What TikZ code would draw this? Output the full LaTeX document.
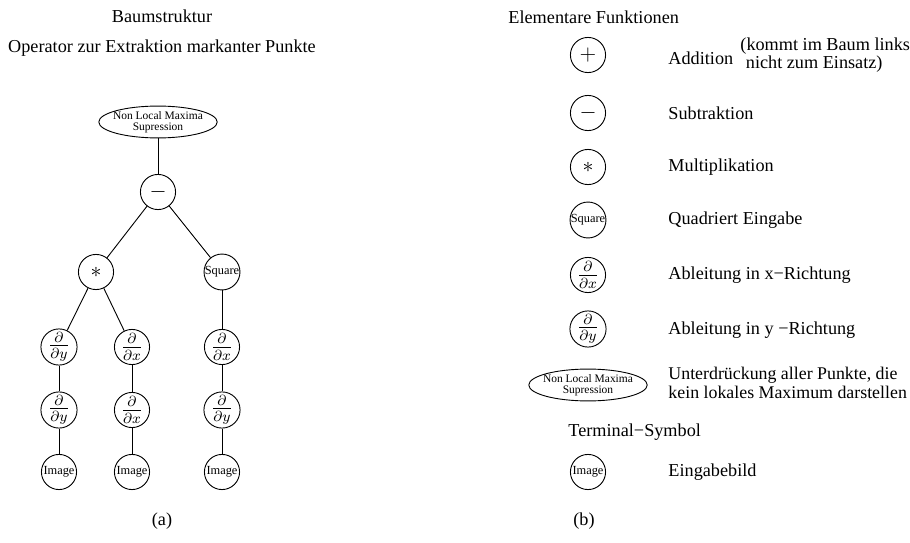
\documentclass[tikz,border=0pt]{standalone}
\usepackage{fontspec}
\setmainfont{Liberation Serif}
\usetikzlibrary{shapes.geometric}

\tikzset{
	fn/.style={draw, circle, minimum size=19.3pt, inner sep=0pt, font=\fontsize{11.5}{13}\selectfont},
	tinyfn/.style={fn, font=\fontsize{6.8}{7}\selectfont},
	nlms/.style={draw, ellipse, minimum width=65pt, minimum height=17.5pt, inner xsep=-8pt, inner ysep=-2pt, align=center, font=\fontsize{6.3}{6.2}\selectfont},
	desc/.style={anchor=west, inner sep=0pt, font=\fontsize{10}{12}\selectfont},
	headline/.style={inner sep=0pt, font=\fontsize{10}{12}\selectfont}
}

\begin{document}
\begin{tikzpicture}[x=0.549pt, y=-0.549pt, line width=0.5pt]
	\useasboundingbox (0,0) rectangle (910,543);

	\node[headline] (baum) at (162,16) {Baumstruktur};
	\node[headline] (operator) at (162,48) {Operator zur Extraktion markanter Punkte};

	\node[nlms] (nlmsL) at (158,122) {Non Local Maxima\\Supression};
	\node[fn] (minusL) at (158,192) {$-$};
	\node[fn] (multL) at (96,272) {$\ast$};
	\node[tinyfn] (sqL) at (222,272) {Square};
	\node[fn] (dyA) at (59,347) {$\frac{\partial}{\partial y}$};
	\node[fn] (dyB) at (59,410) {$\frac{\partial}{\partial y}$};
	\node[tinyfn] (imgA) at (59,472) {Image};
	\node[fn] (dxA) at (132,347) {$\frac{\partial}{\partial x}$};
	\node[fn] (dxB) at (132,410) {$\frac{\partial}{\partial x}$};
	\node[tinyfn] (imgB) at (132,472) {Image};
	\node[fn] (dxC) at (222,347) {$\frac{\partial}{\partial x}$};
	\node[fn] (dyC) at (222,410) {$\frac{\partial}{\partial y}$};
	\node[tinyfn] (imgC) at (222,472) {Image};

	\draw (nlmsL) -- (minusL);
	\draw (minusL) -- (multL);
	\draw (minusL) -- (sqL);
	\draw (multL) -- (dyA);
	\draw (multL) -- (dxA);
	\draw (dyA) -- (dyB) -- (imgA);
	\draw (dxA) -- (dxB) -- (imgB);
	\draw (sqL) -- (dxC) -- (dyC) -- (imgC);

	\node[headline] (capA) at (162,521) {(a)};

	\node[headline, anchor=west] (elem) at (508,17) {Elementare Funktionen};

	\node[fn] (plusR) at (588,55) {$+$};
	\node[desc] (plusD) at (668,58) {Addition};
	\node[desc, align=left, font=\fontsize{10}{6.2}\selectfont] (plusN) at (740,55) {(kommt im Baum links\\\hspace{3pt}nicht zum Einsatz)};

	\node[fn] (minusR) at (588,113) {$-$};
	\node[desc] (minusD) at (668,113) {Subtraktion};

	\node[fn] (multR) at (588,167) {$\ast$};
	\node[desc] (multD) at (668,167) {Multiplikation};

	\node[tinyfn] (sqR) at (588,220) {Square};
	\node[desc] (sqD) at (668,220) {Quadriert Eingabe};

	\node[fn] (dxR) at (588,275) {$\frac{\partial}{\partial x}$};
	\node[desc] (dxD) at (668,275) {Ableitung in x−Richtung};

	\node[fn] (dyR) at (588,329) {$\frac{\partial}{\partial y}$};
	\node[desc] (dyD) at (668,330) {Ableitung in y −Richtung};

	\node[nlms] (nlmsR) at (588,385) {Non Local Maxima\\Supression};
	\node[desc, align=left, font=\fontsize{9.8}{10.5}\selectfont] (nlmsD) at (668,383) {Unterdrückung aller Punkte, die\\kein lokales Maximum darstellen};

	\node[headline, anchor=west] (term) at (568,432) {Terminal−Symbol};

	\node[tinyfn] (imgR) at (588,472) {Image};
	\node[desc] (imgD) at (668,472) {Eingabebild};

	\node[headline] (capB) at (584,521) {(b)};
\end{tikzpicture}
\end{document}
